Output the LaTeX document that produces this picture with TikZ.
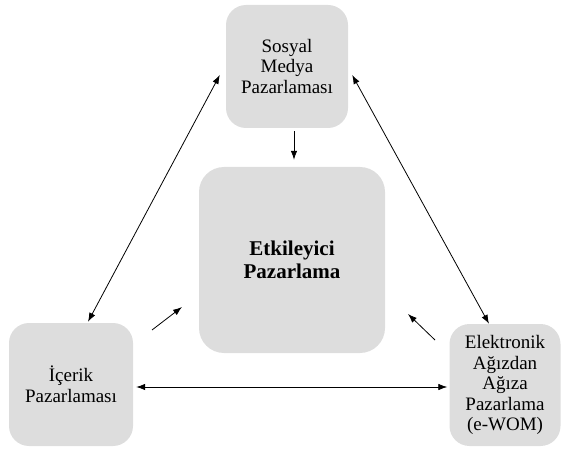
\documentclass[tikz,border=0pt]{standalone}
\usepackage{fontspec}
\setmainfont{Liberation Serif}
\usetikzlibrary{arrows.meta}
\definecolor{boxgray}{HTML}{DDDDDD}
\begin{document}
\begin{tikzpicture}[x=1pt,y=1pt,
  box/.style={fill=boxgray, draw=none, rounded corners=20pt, align=center,
    inner sep=0pt, font=\fontsize{19}{20.5}\selectfont},
  arr/.style={draw=black, line width=0.8pt, -{Latex[length=9pt,width=6.5pt]}},
  dblarr/.style={draw=black, line width=0.8pt, {Latex[length=9pt,width=6.5pt]}-{Latex[length=9pt,width=6.5pt]}}]
  \useasboundingbox (0,0) rectangle (563,448);

  % boxes
  \node[box, minimum width=122pt, minimum height=123pt] (top) at (287,381.5)
    {Sosyal\\Medya\\Pazarlaması};
  \node[box, minimum width=186pt, minimum height=186pt, rounded corners=25pt,
    font=\fontsize{21}{23}\selectfont\bfseries] (mid) at (292,188)
    {Etkileyici\\Pazarlama};
  \node[box, minimum width=124pt, minimum height=123pt] (left) at (71,63.5)
    {İçerik\\Pazarlaması};
  \node[box, minimum width=111pt, minimum height=122pt] (right) at (505,63)
    {Elektronik\\Ağızdan\\Ağıza\\Pazarlama\\(e-WOM)};

  % free ends of the two short arrows toward the centre
  \coordinate (lt) at (152,118);
  \coordinate (lh) at (182,141);
  \coordinate (rt) at (435,108);
  \coordinate (rh) at (408,134);

  % connectors
  \draw[arr] ([xshift=7pt,yshift=-3pt]top.south) -- ([xshift=2pt,yshift=7pt]mid.north);
  \draw[dblarr] ([xshift=-6pt,yshift=-8.5pt]top.west) -- ([xshift=17pt,yshift=1pt]left.north);
  \draw[dblarr] ([xshift=4pt,yshift=-8.5pt]top.east) -- ([xshift=-16pt]right.north);
  \draw[dblarr] ([xshift=3pt,yshift=-2.5pt]left.east) -- ([xshift=-2pt,yshift=-2pt]right.west);
  \draw[arr] (lt) -- (lh);
  \draw[arr] (rt) -- (rh);
\end{tikzpicture}
\end{document}
